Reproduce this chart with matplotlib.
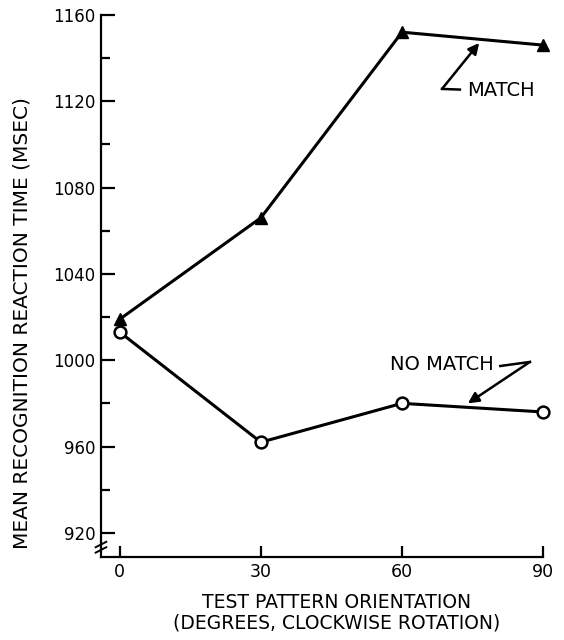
"""
Mean recognition reaction time vs. test pattern orientation (match / no match).
"""

import matplotlib
matplotlib.use("Agg")

import matplotlib.pyplot as plt
import numpy as np

# -- Data ---------------------------------------------------------------------
orientation = [0, 30, 60, 90]
match_rt = [1019, 1066, 1152, 1146]
no_match_rt = [1013, 962, 980, 976]

y_ticks = [920, 960, 1000, 1040, 1080, 1120, 1160]
x_ticks = [0, 30, 60, 90]

plt.rcParams["font.family"] = "DejaVu Sans"

# -- Figure -------------------------------------------------------------------
fig = plt.figure(figsize=(5.64, 6.4), dpi=100)
ax = fig.add_axes([0.179, 0.1297, 0.784, 0.847])

ax.plot(orientation, match_rt, color="black", lw=2.2, marker="^",
        markersize=9, markerfacecolor="black", markeredgecolor="black",
        clip_on=False, zorder=3)
ax.plot(orientation, no_match_rt, color="black", lw=2.2, marker="o",
        markersize=8.5, markerfacecolor="white", markeredgecolor="black",
        markeredgewidth=1.8, clip_on=False, zorder=3)

ax.set_xlim(-4, 90)
ax.set_ylim(908.8, 1160)

ax.spines["top"].set_visible(False)
ax.spines["right"].set_visible(False)
ax.spines["left"].set_linewidth(1.6)
ax.spines["bottom"].set_linewidth(1.6)

ax.set_yticks(y_ticks)
ax.set_yticks(np.arange(940, 1160, 40), minor=True)
ax.set_xticks(x_ticks)
ax.tick_params(axis="y", which="major", direction="in", length=10, width=1.6,
               labelsize=12, pad=4)
ax.tick_params(axis="y", which="minor", direction="in", length=6.5, width=1.6)
ax.tick_params(axis="x", which="major", direction="in", length=8, width=1.6,
               labelsize=12.5, pad=4)

ax.set_xlabel("TEST PATTERN ORIENTATION\n(DEGREES, CLOCKWISE ROTATION)",
              fontsize=13.5, linespacing=1.1)
ax.xaxis.set_label_coords(0.532, -0.066)
ax.set_ylabel("MEAN RECOGNITION REACTION TIME (MSEC)", fontsize=14.5)
ax.yaxis.set_label_coords(-0.158, 0.432)

# -- Axis break marks ---------------------------------------------------------
for yb in (0.013, 0.023):
    ax.plot([-0.012, 0.012], [yb - 0.005, yb + 0.005], transform=ax.transAxes,
            color="black", lw=1.4, clip_on=False)

# -- Annotations --------------------------------------------------------------
arrow = dict(arrowstyle="-|>", color="black", lw=1.8, mutation_scale=16,
             shrinkA=0, shrinkB=0)

ax.text(73.8, 1125.2, "MATCH", fontsize=14, ha="left", va="center")
ax.plot([72.3, 68.5], [1125.4, 1125.7], color="black", lw=1.8)
ax.annotate("", xy=(76.4, 1147.0), xytext=(68.5, 1125.7), arrowprops=arrow)

ax.text(57.4, 997.8, "NO MATCH", fontsize=14, ha="left", va="center")
ax.plot([80.9, 87.2], [997.3, 999.2], color="black", lw=1.8)
ax.annotate("", xy=(74.0, 980.0), xytext=(87.2, 999.2), arrowprops=arrow)

fig.savefig("out.png", dpi=100, facecolor="white")
plt.close(fig)
